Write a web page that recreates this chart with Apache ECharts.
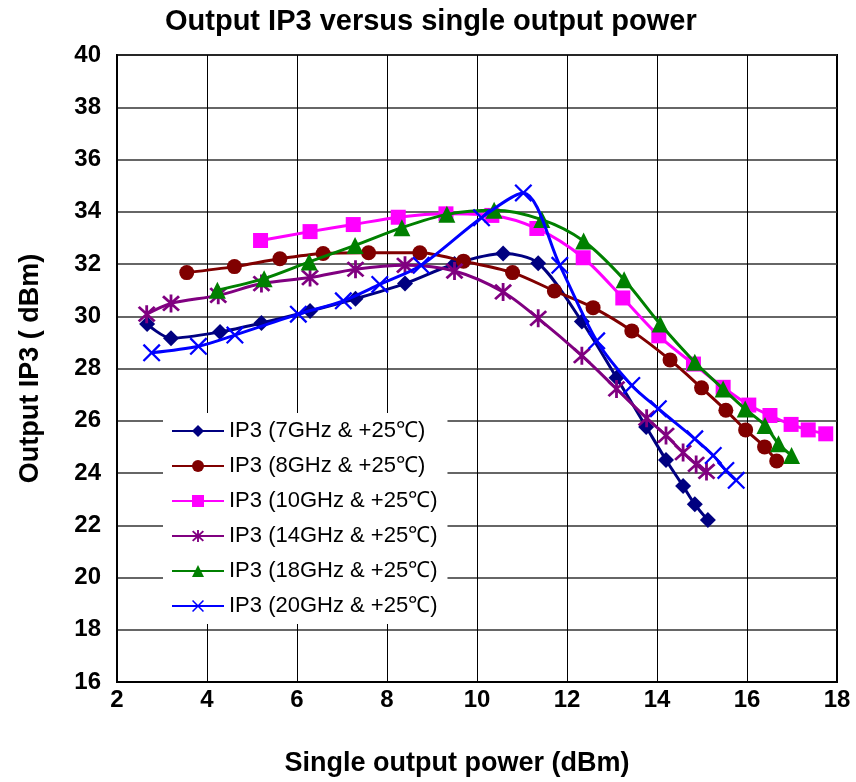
<!DOCTYPE html>
<html>
<head>
<meta charset="utf-8">
<script src="https://cdn.jsdelivr.net/npm/echarts@6/dist/echarts.min.js"></script>
<style>
  html, body { margin: 0; padding: 0; background: #fff; }
  #main { width: 856px; height: 782px; }
</style>
</head>
<body>
<div id="main"></div>
<script>
// series names (legend order)
const names = [
  'IP3 (7GHz & +25℃)',
  'IP3 (8GHz & +25℃)',
  'IP3 (10GHz & +25℃)',
  'IP3 (14GHz & +25℃)',
  'IP3 (18GHz & +25℃)',
  'IP3 (20GHz & +25℃)'
];

// single output power (dBm) / output IP3 (dBm)
const x7 = [2.67, 3.2, 4.29, 5.21, 6.29, 7.3, 8.4, 9.5, 10.58, 11.36, 12.33, 13.1, 13.76, 14.2, 14.58, 14.84, 15.13];
const y7 = [29.7, 29.16, 29.4, 29.74, 30.2, 30.67, 31.25, 32.0, 32.4, 32.03, 29.8, 27.65, 25.76, 24.5, 23.5, 22.8, 22.2];

const x8 = [3.55, 4.61, 5.62, 6.58, 7.59, 8.73, 9.7, 10.79, 11.72, 12.58, 13.44, 14.29, 14.99, 15.53, 15.97, 16.39, 16.66];
const y8 = [31.67, 31.9, 32.2, 32.4, 32.43, 32.43, 32.11, 31.67, 30.97, 30.33, 29.44, 28.33, 27.26, 26.4, 25.65, 25.0, 24.46];

const x10 = [5.19, 6.29, 7.25, 8.25, 9.31, 10.33, 11.33, 12.36, 13.24, 14.04, 14.81, 15.47, 16.04, 16.51, 16.98, 17.36, 17.75];
const y10 = [32.9, 33.24, 33.51, 33.79, 33.92, 33.86, 33.36, 32.24, 30.7, 29.25, 28.17, 27.28, 26.6, 26.2, 25.86, 25.65, 25.5];

const x14 = [2.66, 3.2, 4.25, 5.21, 6.29, 7.3, 8.4, 9.5, 10.58, 11.36, 12.33, 13.1, 13.77, 14.2, 14.58, 14.87, 15.1];
const y14 = [30.08, 30.49, 30.8, 31.25, 31.48, 31.8, 31.95, 31.73, 30.93, 29.92, 28.49, 27.22, 26.1, 25.44, 24.78, 24.33, 24.06];

const x18 = [4.23, 5.27, 6.27, 7.29, 8.33, 9.33, 10.38, 11.44, 12.37, 13.27, 14.07, 14.84, 15.47, 15.96, 16.4, 16.7, 16.99];
const y18 = [31.0, 31.44, 32.08, 32.71, 33.39, 33.9, 34.06, 33.7, 32.88, 31.4, 29.7, 28.24, 27.22, 26.45, 25.82, 25.12, 24.67];

const x20 = [2.77, 3.81, 4.62, 6.03, 7.03, 7.84, 8.76, 10.1, 11.03, 11.84, 12.66, 13.44, 14.03, 14.84, 15.25, 15.53, 15.76];
const y20 = [28.6, 28.85, 29.28, 30.08, 30.59, 31.22, 31.95, 33.77, 34.72, 31.95, 29.06, 27.35, 26.46, 25.31, 24.67, 24.1, 23.72];

const xTicks = [2, 4, 6, 8, 10, 12, 14, 16, 18];
const yTicks = [16, 18, 20, 22, 24, 26, 28, 30, 32, 34, 36, 38, 40];

const colors = ['#000080', '#800000', '#FF00FF', '#800080', '#008000', '#0000FF'];

// marker shapes: asterisk and cross drawn as thin filled bars
const starPath = 'path://M4.3,0 L5.7,0 L5.7,10 L4.3,10 Z M0.5,1.5 L1.5,0.5 L9.5,8.5 L8.5,9.5 Z M8.5,0.5 L9.5,1.5 L1.5,9.5 L0.5,8.5 Z';
const crossPath = 'path://M0,0.9 L0.9,0 L10,9.1 L9.1,10 Z M9.1,0 L10,0.9 L0.9,10 L0,9.1 Z';

const symbols = ['diamond', 'circle', 'rect', starPath, 'triangle', crossPath];
const sizes = [16, 15, 15, 18, 17, 18];

function zip(xs, ys) {
  return xs.map((v, i) => [v, ys[i]]);
}
const allData = [zip(x7, y7), zip(x8, y8), zip(x10, y10), zip(x14, y14), zip(x18, y18), zip(x20, y20)];

const chart = echarts.init(document.getElementById('main'));

const font = 'Liberation Sans, Arial';

const option = {
  backgroundColor: '#fff',
  animation: false,
  title: {
    text: 'Output IP3 versus single output power',
    left: 160,
    top: 2,
    textStyle: {
      fontFamily: font,
      fontWeight: 'bold',
      fontSize: 29,
      color: '#000'
    }
  },
  legend: {
    data: names,
    orient: 'vertical',
    left: 163,
    top: 413,
    padding: [7, 10, 7, 8],
    itemGap: 13,
    itemWidth: 52,
    itemHeight: 15,
    backgroundColor: '#fff',
    textStyle: {
      fontFamily: font,
      fontSize: 22,
      color: '#000'
    }
  },
  grid: {
    left: 117,
    right: 19,
    top: 55,
    bottom: 98,
    show: true,
    borderColor: '#000',
    borderWidth: 2,
    containLabel: false
  },
  xAxis: {
    type: 'value',
    min: xTicks[0],
    max: xTicks[xTicks.length - 1],
    interval: 2,
    name: 'Single output power (dBm)',
    nameLocation: 'middle',
    nameGap: 68,
    nameTextStyle: {
      fontFamily: font,
      fontWeight: 'bold',
      fontSize: 27,
      color: '#000',
      padding: [0, 40, 0, 0]
    },
    axisLine: { show: true, lineStyle: { color: '#000', width: 2 } },
    axisTick: { show: false },
    axisLabel: {
      margin: 6,
      fontFamily: font,
      fontWeight: 'bold',
      fontSize: 24,
      color: '#000'
    },
    splitLine: { show: true, lineStyle: { color: '#000', width: 1 } }
  },
  yAxis: {
    type: 'value',
    min: yTicks[0],
    max: yTicks[yTicks.length - 1],
    interval: 2,
    name: 'Output IP3 ( dBm)',
    nameLocation: 'middle',
    nameGap: 73,
    nameTextStyle: {
      fontFamily: font,
      fontWeight: 'bold',
      fontSize: 27,
      color: '#000'
    },
    axisLine: { show: true, lineStyle: { color: '#000', width: 2 } },
    axisTick: { show: false },
    axisLabel: {
      margin: 16,
      fontFamily: font,
      fontWeight: 'bold',
      fontSize: 24,
      color: '#000'
    },
    splitLine: { show: true, lineStyle: { color: '#333', width: 1.5 } }
  },
  series: names.map((n, i) => ({
    name: n,
    type: 'line',
    smooth: 0.3,
    data: allData[i],
    symbol: symbols[i],
    symbolSize: sizes[i],
    showAllSymbol: true,
    color: colors[i],
    lineStyle: { color: colors[i], width: 3 },
    itemStyle: { color: colors[i], borderWidth: 0, opacity: 1 },
    z: 2 + i
  }))
};

chart.setOption(option);
</script>
</body>
</html>
